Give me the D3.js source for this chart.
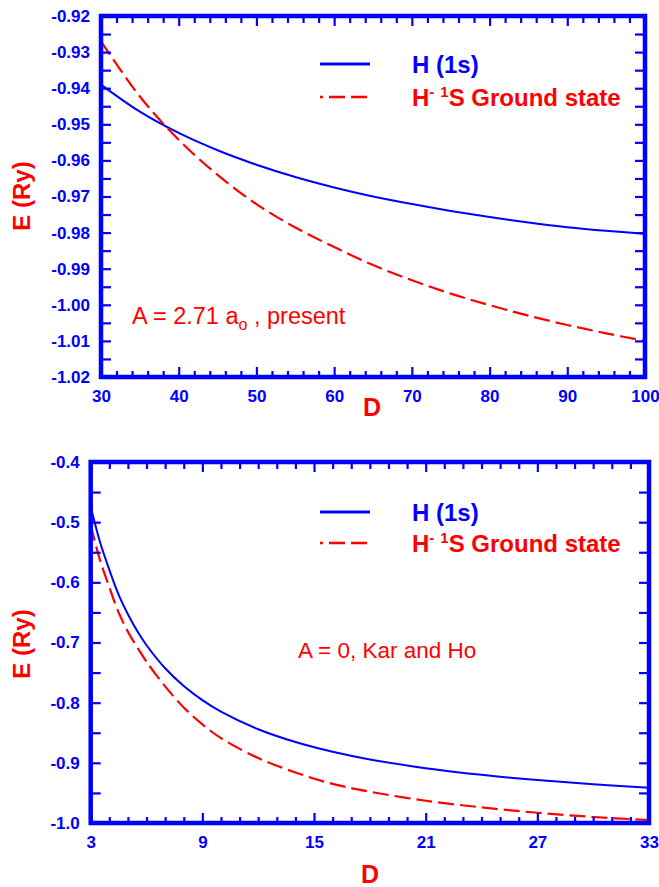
<!DOCTYPE html>
<html>
<head>
<meta charset="utf-8">
<script src="https://cdn.jsdelivr.net/npm/d3@7"></script>
<style>
  html, body { margin: 0; padding: 0; background: #fff; }
  svg { display: block; }
  text { font-family: "Liberation Sans", Arial, Helvetica, sans-serif; }
</style>
</head>
<body>
<svg id="chart" width="659" height="887"></svg>
<script>
// ---------- DATA ----------
// Top panel: A = 2.71 a0 (present)
const topD = [30, 35, 40, 45, 50, 55, 60, 65, 70, 75, 80, 85, 90, 95, 100];
const topH1s = [-0.939, -0.9465, -0.9524, -0.9572, -0.9612, -0.9646, -0.9675, -0.970, -0.9721, -0.974, -0.9757, -0.9772, -0.9785, -0.9795, -0.9803];
const topHminus = [-0.927, -0.9423, -0.9543, -0.964, -0.9721, -0.9786, -0.984, -0.989, -0.9932, -0.9969, -1.0001, -1.003, -1.0056, -1.0079, -1.010];
const topXTicks = [30, 40, 50, 60, 70, 80, 90, 100];
const topYTicks = [-0.92, -0.93, -0.94, -0.95, -0.96, -0.97, -0.98, -0.99, -1.00, -1.01, -1.02];

// Bottom panel: A = 0, Kar and Ho
const botD = [3, 3.5, 4, 4.5, 5, 5.5, 6, 7, 8, 9, 10, 12, 14, 16, 18, 21, 24, 27, 30, 33];
const botH1s = [-0.474, -0.533, -0.579, -0.6205, -0.653, -0.681, -0.7046, -0.7428, -0.7723, -0.7958, -0.815, -0.8442, -0.8654, -0.8816, -0.8943, -0.9089, -0.920, -0.9287, -0.9357, -0.9415];
const botHminus = [-0.505, -0.563, -0.608, -0.650, -0.682, -0.708, -0.732, -0.773, -0.808, -0.836, -0.859, -0.892, -0.916, -0.935, -0.948, -0.963, -0.974, -0.983, -0.990, -0.995];
const botXTicks = [3, 9, 15, 21, 27, 33];
const botYTicks = [-0.4, -0.5, -0.6, -0.7, -0.8, -0.9, -1.0];

const legendLabels = ["H (1s)", "H- 1S Ground state"];
const yTitle = "E (Ry)";
const xTitle = "D";

// ---------- DRAWING ----------
const BLUE = "#0000ff", RED = "#ff0000";
const svg = d3.select("#chart");

function panel(cfg) {
  const g = svg.append("g");
  const x = d3.scaleLinear().domain(cfg.xDomain).range([cfg.left, cfg.right]);
  const y = d3.scaleLinear().domain(cfg.yDomain).range([cfg.bottom, cfg.top]);

  const xMinor = d3.range(cfg.xDomain[0], cfg.xDomain[1] + 1e-9, cfg.xMinorStep);
  const yMinor = d3.range(0, Math.round((cfg.yDomain[1] - cfg.yDomain[0]) / cfg.yMinorStep) + 1)
                   .map(i => cfg.yDomain[0] + i * cfg.yMinorStep);
  const fmtY = v => d3.format(cfg.yFmt)(v).replace("\u2212", "-");

  // curves
  const line = d3.line().x(d => x(d[0])).y(d => y(d[1])).curve(d3.curveCatmullRom.alpha(0.5));
  g.append("path").datum(cfg.D.map((d, i) => [d, cfg.h1s[i]]))
    .attr("d", line).attr("fill", "none").attr("stroke", BLUE).attr("stroke-width", 2);
  g.append("path").datum(cfg.D.map((d, i) => [d, cfg.hm[i]]))
    .attr("d", line).attr("fill", "none").attr("stroke", RED).attr("stroke-width", 2.2)
    .attr("stroke-dasharray", "16,6");

  // ticks: bottom & top (inward)
  const tickStyle = sel => sel.call(s => s.select(".domain").remove())
    .selectAll("line").attr("stroke", BLUE).attr("stroke-width", 2.2);
  const isMajor = v => cfg.xTicks.some(t => Math.abs(t - v) < 1e-9);
  const xm = xMinor.filter(v => !isMajor(v));
  g.append("g").attr("transform", `translate(0,${cfg.bottom})`)
    .call(d3.axisBottom(x).tickValues(xm).tickSize(-6).tickFormat("")).call(tickStyle);
  g.append("g").attr("transform", `translate(0,${cfg.top})`)
    .call(d3.axisTop(x).tickValues(xm).tickSize(-7).tickFormat("")).call(tickStyle);
  g.append("g").attr("transform", `translate(0,${cfg.top})`)
    .call(d3.axisTop(x).tickValues(cfg.xTicks).tickSize(-10).tickFormat("")).call(tickStyle);
  const xb = g.append("g").attr("transform", `translate(0,${cfg.bottom})`)
    .call(d3.axisBottom(x).tickValues(cfg.xTicks).tickSize(-10).tickPadding(13).tickFormat(d3.format("d")));
  xb.call(tickStyle);
  xb.selectAll("text").attr("fill", BLUE).attr("font-size", 17).attr("font-weight", "bold")
    .attr("font-family", "Liberation Sans, Arial, sans-serif").attr("dy", "0.71em");

  // left & right ticks
  g.append("g").attr("transform", `translate(${cfg.right},0)`)
    .call(d3.axisRight(y).tickValues(yMinor).tickSize(-10).tickFormat("")).call(tickStyle);
  g.append("g").attr("transform", `translate(${cfg.left},0)`)
    .call(d3.axisLeft(y).tickValues(yMinor).tickSize(-10).tickFormat("")).call(tickStyle);
  const ylab = g.append("g").attr("transform", `translate(${cfg.left},0)`)
    .call(d3.axisLeft(y).tickValues(cfg.yTicks).tickSize(0).tickPadding(11).tickFormat(fmtY));
  ylab.select(".domain").remove();
  ylab.selectAll("text").attr("fill", BLUE).attr("font-size", 17).attr("font-weight", "bold")
    .attr("font-family", "Liberation Sans, Arial, sans-serif");

  // frame
  g.append("rect").attr("x", cfg.left).attr("y", cfg.top)
    .attr("width", cfg.right - cfg.left).attr("height", cfg.bottom - cfg.top)
    .attr("fill", "none").attr("stroke", BLUE).attr("stroke-width", 4.5);

  // axis titles
  g.append("text").attr("transform", `translate(${cfg.yTitleX},${cfg.yTitleY}) rotate(-90)`)
    .attr("text-anchor", "middle").attr("dominant-baseline", "central")
    .attr("fill", RED).attr("font-size", 24).attr("font-weight", "bold").text(yTitle);
  g.append("text").attr("x", cfg.xTitleX).attr("y", cfg.xTitleY)
    .attr("text-anchor", "middle").attr("fill", RED).attr("font-size", 25).attr("font-weight", "bold").text(xTitle);

  // legend
  const L = cfg.legend;
  g.append("line").attr("x1", L.x1).attr("x2", L.x2).attr("y1", L.y1).attr("y2", L.y1)
    .attr("stroke", BLUE).attr("stroke-width", 3);
  g.append("text").attr("x", L.tx).attr("y", L.y1 + 9).attr("fill", BLUE)
    .attr("font-size", 24).attr("font-weight", "bold").text(legendLabels[0]);
  g.append("line").attr("x1", L.x1).attr("x2", L.x2).attr("y1", L.y2).attr("y2", L.y2)
    .attr("stroke", RED).attr("stroke-width", 2.5).attr("stroke-dasharray", "16,6").attr("stroke-dashoffset", 13);
  const t2 = g.append("text").attr("x", L.tx).attr("y", L.y2 + 9).attr("fill", RED)
    .attr("font-size", 24).attr("font-weight", "bold");
  t2.append("tspan").text("H");
  t2.append("tspan").attr("font-size", 15).attr("dy", -9).text("-");
  t2.append("tspan").attr("font-size", 15).attr("dx", 6).text("1");
  t2.append("tspan").attr("dy", 9).text("S Ground state");

  // annotation
  const a = g.append("text").attr("x", cfg.note.x).attr("y", cfg.note.y).attr("fill", RED)
    .attr("font-size", cfg.note.size);
  cfg.note.build(a);
}

panel({
  left: 101, right: 645, top: 16, bottom: 377,
  xDomain: [30, 100], yDomain: [-1.02, -0.92],
  xMinorStep: 2, yMinorStep: 0.005,
  xTicks: topXTicks, yTicks: topYTicks, yFmt: ".2f",
  D: topD, h1s: topH1s, hm: topHminus,
  yTitleX: 21, yTitleY: 196, xTitleX: 372, xTitleY: 416,
  legend: { x1: 320, x2: 370, y1: 64, y2: 97, tx: 412 },
  note: { x: 132, y: 324, size: 23.5, build: t => {
    t.append("tspan").text("A = 2.71  a");
    t.append("tspan").attr("font-size", 16).attr("dy", 6).text("o");
    t.append("tspan").attr("dy", -6).text(" , present");
  } }
});

panel({
  left: 90.7, right: 649, top: 462, bottom: 823,
  xDomain: [3, 33], yDomain: [-1.0, -0.4],
  xMinorStep: 1, yMinorStep: 0.05,
  xTicks: botXTicks, yTicks: botYTicks, yFmt: ".1f",
  D: botD, h1s: botH1s, hm: botHminus,
  yTitleX: 21, yTitleY: 644, xTitleX: 370, xTitleY: 883,
  legend: { x1: 320, x2: 370, y1: 512, y2: 543, tx: 412 },
  note: { x: 298, y: 658, size: 22.5, build: t => { t.text("A = 0, Kar and Ho"); } }
});
</script>
</body>
</html>
